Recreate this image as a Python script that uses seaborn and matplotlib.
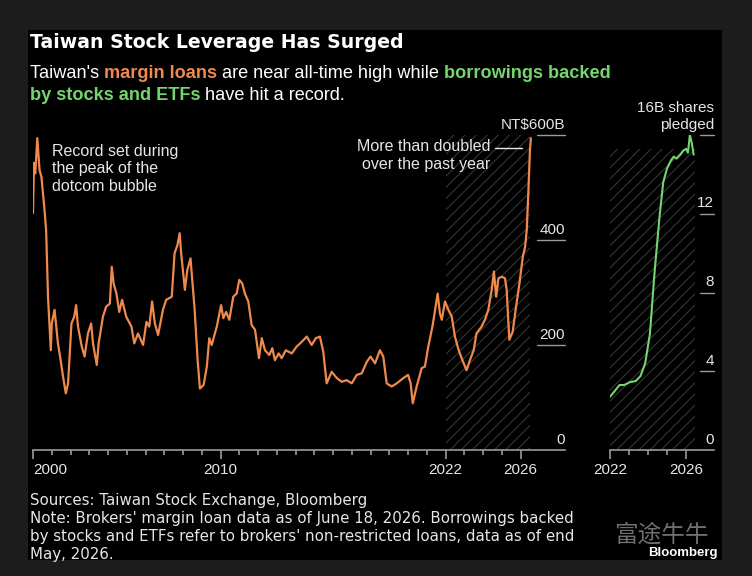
import numpy as np
import pandas as pd
import matplotlib
matplotlib.use("Agg")
import matplotlib.pyplot as plt
import matplotlib.transforms as mtransforms
from matplotlib.patches import Rectangle
import seaborn as sns

# margin loans, NT$ billions
margin_years = [2000.00, 2000.05, 2000.12, 2000.23, 2000.35, 2000.45, 2000.60, 2000.70, 2000.80, 2000.95,
                2001.00, 2001.15, 2001.33, 2001.50, 2001.60, 2001.75, 2001.87, 2002.05, 2002.20, 2002.30,
                2002.40, 2002.60, 2002.75, 2002.93, 2003.10, 2003.20, 2003.40, 2003.50, 2003.73, 2003.90,
                2004.10, 2004.20, 2004.30, 2004.45, 2004.60, 2004.75, 2004.97, 2005.25, 2005.40, 2005.60,
                2005.87, 2006.05, 2006.20, 2006.35, 2006.50, 2006.67, 2006.93, 2007.10, 2007.40, 2007.55,
                2007.70, 2007.82, 2007.90, 2008.10, 2008.23, 2008.40, 2008.62, 2008.78, 2008.90, 2009.10,
                2009.27, 2009.40, 2009.53, 2009.80, 2010.03, 2010.15, 2010.30, 2010.47, 2010.68, 2010.86,
                2011.00, 2011.16, 2011.30, 2011.48, 2011.66, 2011.84, 2012.05, 2012.20, 2012.37, 2012.60,
                2012.76, 2012.90, 2013.10, 2013.26, 2013.48, 2013.80, 2014.06, 2014.33, 2014.60, 2014.86,
                2015.08, 2015.30, 2015.48, 2015.66, 2015.93, 2016.20, 2016.46, 2016.73, 2017.00, 2017.26,
                2017.53, 2017.80, 2018.00, 2018.24, 2018.50, 2018.68, 2018.86, 2019.13, 2019.40, 2019.75,
                2020.00, 2020.14, 2020.25, 2020.46, 2020.73, 2020.90, 2021.08, 2021.30, 2021.44, 2021.58,
                2021.70, 2021.80, 2021.97, 2022.15, 2022.33, 2022.50, 2022.70, 2022.90, 2023.12, 2023.30,
                2023.50, 2023.65, 2023.92, 2024.10, 2024.28, 2024.46, 2024.58, 2024.70, 2024.82, 2025.00,
                2025.17, 2025.26, 2025.40, 2025.58, 2025.76, 2025.94, 2026.12, 2026.24, 2026.33, 2026.42,
                2026.50, 2026.55]
margin_values = [451, 547, 527, 594, 533, 520, 463, 419, 292, 190,
                 241, 267, 203, 165, 140, 108, 127, 241, 254, 276,
                 235, 197, 178, 222, 241, 203, 162, 203, 254, 273,
                 279, 349, 317, 298, 263, 286, 254, 235, 203, 222,
                 200, 244, 235, 283, 241, 219, 267, 286, 292, 375,
                 390, 413, 375, 305, 343, 365, 267, 171, 117, 124,
                 159, 213, 200, 235, 276, 251, 263, 248, 292, 298,
                 324, 317, 298, 283, 238, 229, 175, 213, 190, 181,
                 194, 171, 184, 175, 190, 184, 197, 206, 216, 200,
                 213, 216, 187, 127, 149, 137, 130, 133, 127, 143,
                 146, 168, 178, 165, 190, 178, 127, 121, 127, 137,
                 143, 127, 89, 121, 156, 159, 197, 235, 267, 298,
                 260, 248, 283, 267, 254, 216, 190, 171, 152, 171,
                 190, 222, 235, 248, 267, 305, 340, 292, 327, 330,
                 327, 305, 210, 225, 273, 317, 368, 387, 419, 495,
                 571, 594]

# shares pledged, billions
pledge_years = [2022.00, 2022.25, 2022.50, 2022.75, 2023.05, 2023.35, 2023.60, 2023.85, 2024.10, 2024.35,
                2024.60, 2024.80, 2025.00, 2025.20, 2025.35, 2025.50, 2025.70, 2025.85, 2026.00, 2026.10,
                2026.20, 2026.30, 2026.40]
pledge_values = [2.7, 3.0, 3.3, 3.3, 3.45, 3.5, 3.75, 4.4, 5.9, 9.1,
                 11.8, 13.6, 14.3, 14.7, 14.9, 14.8, 15.0, 15.2, 15.3, 15.1,
                 16.0, 15.6, 15.0]

left_yticks = [0, 200, 400]
right_yticks = [0, 4, 8, 12]

ORANGE = "#f0894c"
GREEN = "#74d46e"
GREY = "#9a9a9a"
TXT = "#e6e6e6"

sns.set_theme(style="dark")
plt.rcParams["font.family"] = ["Liberation Sans", "DejaVu Sans"]
plt.rcParams["hatch.color"] = "#363636"
plt.rcParams["hatch.linewidth"] = 0.8

W, H = 752, 576
fig = plt.figure(figsize=(W / 100, H / 100), dpi=100, facecolor="#1c1c1c")

def fx(px):
    return px / W

def fy(py):
    return 1 - py / H

fig.patches.append(Rectangle((fx(28), fy(560)), fx(722) - fx(28), fy(30) - fy(560),
                             transform=fig.transFigure, facecolor="black", edgecolor="none", zorder=-10))

bottom, top = fy(450), fy(135)
ax1 = fig.add_axes([fx(33), bottom, fx(565) - fx(33), top - bottom])
ax2 = fig.add_axes([fx(610), bottom, fx(714) - fx(610), top - bottom])

df1 = pd.DataFrame({"year": margin_years, "value": margin_values})
df2 = pd.DataFrame({"year": pledge_years, "value": pledge_values})

sns.lineplot(data=df1, x="year", y="value", ax=ax1, color=ORANGE, linewidth=1.6, zorder=3)
sns.lineplot(data=df2, x="year", y="value", ax=ax2, color=GREEN, linewidth=1.5, zorder=3)

ax1.axvspan(2022, 2026.5, facecolor="none", edgecolor="#363636", hatch="///", linewidth=0, zorder=1)
ax2.axvspan(2022, 2026.45, ymax=15.3 / 16, facecolor="none", edgecolor="#363636", hatch="///",
            linewidth=0, zorder=1)

def style_axis(ax, xlim, ylim, majors, minors, grid_from, yticks, top_label):
    ax.set_facecolor("none")
    ax.set_xlim(*xlim)
    ax.set_ylim(*ylim)
    ax.set_xlabel("")
    ax.set_ylabel("")
    for s in ["top", "right", "left"]:
        ax.spines[s].set_visible(False)
    ax.spines["bottom"].set_color(GREY)
    ax.spines["bottom"].set_linewidth(1.2)
    ax.set_xticks(majors)
    ax.set_xticks(minors, minor=True)
    ax.set_xticklabels([str(m) for m in majors])
    ax.tick_params(axis="x", which="major", direction="out", length=6.5, width=1.2, color=GREY,
                   labelcolor=TXT, labelsize=11, pad=3, bottom=True)
    ax.tick_params(axis="x", which="minor", direction="out", length=3.5, width=1.2, color=GREY, bottom=True)
    ax.set_yticks([])
    ax.grid(False)
    trans = mtransforms.blended_transform_factory(ax.transAxes, ax.transData)
    for v in yticks[1:] + [ylim[1]]:
        ax.plot([grid_from, 1], [v, v], transform=trans, color=GREY, linewidth=1, clip_on=False)
    for v in yticks:
        ax.annotate(str(v), xy=(1, v), xycoords=trans, xytext=(0, 2.5), textcoords="offset points",
                    ha="right", va="bottom", color=TXT, fontsize=11)
    ax.annotate(top_label, xy=(1, ylim[1]), xycoords=trans, xytext=(0, 2.5), textcoords="offset points",
                ha="right", va="bottom", color=TXT, fontsize=11, multialignment="right")

style_axis(ax1, (2000, 2028.37), (0, 600), [2000, 2010, 2022, 2026], list(range(2000, 2027)),
           0.947, left_yticks, "NT$600B")
style_axis(ax2, (2022, 2027.47), (0, 16), [2022, 2026], list(range(2022, 2027)),
           0.865, right_yticks, "16B shares\npledged")
ax1.get_xticklabels()[0].set_horizontalalignment("left")

# annotations
ax1.text(2001.0, 583, "Record set during\nthe peak of the\ndotcom bubble", color=TXT, fontsize=11.5,
         va="top", ha="left", linespacing=1.2)
ax1.text(2024.4, 592, "More than doubled\nover the past year", color=TXT, fontsize=11.5,
         va="top", ha="right", multialignment="right", linespacing=1.2)
ax1.plot([2024.64, 2026.08], [575, 575], color=TXT, linewidth=1)

# title and subtitle
fig.text(fx(30), fy(42), "Taiwan Stock Leverage Has Surged", color="white", fontsize=13.6,
         fontweight="bold", family=["DejaVu Sans"], va="center", ha="left")

renderer = fig.canvas.get_renderer()

def run_width(s, size, weight):
    a = fig.text(0, 0, "|" + s + "|", fontsize=size, fontweight=weight)
    b = fig.text(0, 0, "||", fontsize=size, fontweight=weight)
    w = a.get_window_extent(renderer).width - b.get_window_extent(renderer).width
    a.remove()
    b.remove()
    return w

def draw_runs(x_px, y_px, runs, size):
    for s, color, weight in runs:
        fig.text(fx(x_px), fy(y_px), s, color=color, fontsize=size, fontweight=weight,
                 va="center", ha="left")
        x_px += run_width(s, size, weight)

sub_size = 13.1
draw_runs(30, 73, [("Taiwan's ", "white", "normal"), ("margin loans", ORANGE, "bold"),
                   (" are near all-time high while ", "white", "normal"),
                   ("borrowings backed", GREEN, "bold")], sub_size)
draw_runs(30, 95, [("by stocks and ETFs", GREEN, "bold"), (" have hit a record.", "white", "normal")],
          sub_size)

# footer
foot = ("Sources: Taiwan Stock Exchange, Bloomberg\n"
        "Note: Brokers' margin loan data as of June 18, 2026. Borrowings backed\n"
        "by stocks and ETFs refer to brokers' non-restricted loans, data as of end\n"
        "May, 2026.")
fig.text(fx(30), fy(493), foot, color=TXT, fontsize=10.8, family=["DejaVu Sans"],
         va="top", ha="left", linespacing=1.25)
fig.text(fx(718), fy(553), "Bloomberg", color="white", fontsize=9.5, fontweight="bold",
         va="center", ha="right")
fig.text(fx(614), fy(535), "富途牛牛", color="#8c8c8c", alpha=0.8, fontsize=17,
         family=["Noto Sans CJK SC", "DejaVu Sans"], va="center", ha="left")

fig.savefig("out.png", dpi=100, facecolor=fig.get_facecolor())
